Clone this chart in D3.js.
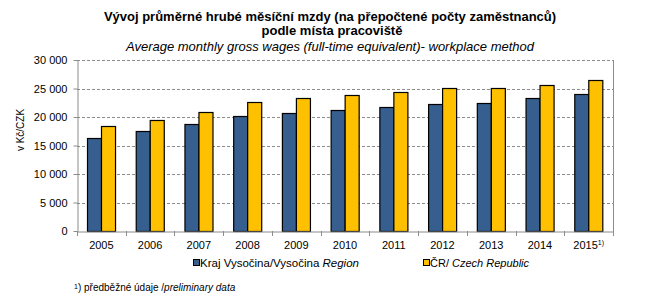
<!DOCTYPE html>
<html lang="cs">
<head>
  <meta charset="UTF-8">
  <title>Vývoj průměrné hrubé měsíční mzdy</title>
  <script src="https://d3js.org/d3.v7.min.js"></script>
  <style>
    body { margin: 0; background: #fff; }
    svg text { font-family: Arial, "Liberation Sans", sans-serif; fill: #000; }
  </style>
</head>
<body>
  <svg width="645" height="304"></svg>

  <script>
    // data
    var years = ["2005", "2006", "2007", "2008", "2009", "2010", "2011", "2012", "2013", "2014", "2015"];
    var vysocina = [16300, 17500, 18750, 20100, 20700, 21200, 21750, 22250, 22400, 23300, 24000];
    var cr = [18350, 19500, 20900, 22600, 23300, 23850, 24400, 25050, 25050, 25700, 26450];
    var yTicks = [0, 5000, 10000, 15000, 20000, 25000, 30000];
    var seriesNames = ["vysocina", "cr"];
    var colors = { vysocina: "#365E8E", cr: "#FFC000" };

    var svg = d3.select("svg"),
      plotL = 77, plotR = 613, plotT = 60, plotB = 231;

    var x0 = d3.scaleBand().domain(years).range([plotL, plotR]).padding(0);
    var step = x0.step();
    var x1 = d3.scaleBand().domain(seriesNames).range([step * 0.212, step * 0.788]).padding(0);
    var y = d3.scaleLinear().domain([0, 30000]).range([plotB, plotT]);

    var fmt = function (v) { return d3.format(",")(v).replace(/,/g, " "); };

    // gridlines (dashed)
    svg.append("g").selectAll("line")
      .data(yTicks.filter(function (t) { return t > 0; }))
      .enter().append("line")
      .attr("x1", plotL).attr("x2", plotR)
      .attr("y1", function (d) { return Math.round(y(d)) + 0.5; })
      .attr("y2", function (d) { return Math.round(y(d)) + 0.5; })
      .attr("stroke", "#8c8c8c")
      .attr("stroke-dasharray", "3,2");

    // right border
    svg.append("line")
      .attr("x1", plotR + 0.5).attr("x2", plotR + 0.5)
      .attr("y1", plotT).attr("y2", plotB)
      .attr("stroke", "#8c8c8c");

    // bars
    var rows = years.map(function (yr, i) { return { year: yr, vysocina: vysocina[i], cr: cr[i] }; });
    var grp = svg.append("g").selectAll("g")
      .data(rows)
      .enter().append("g")
      .attr("transform", function (d) { return "translate(" + x0(d.year) + ",0)"; });

    grp.selectAll("rect")
      .data(function (d) { return seriesNames.map(function (k) { return { key: k, value: d[k] }; }); })
      .enter().append("rect")
      .attr("x", function (d) { return Math.round(x1(d.key)) + 0.5; })
      .attr("y", function (d) { return Math.round(y(d.value)) + 0.5; })
      .attr("width", x1.bandwidth())
      .attr("height", function (d) { return plotB - Math.round(y(d.value)); })
      .attr("fill", function (d) { return colors[d.key]; })
      .attr("stroke", "#000")
      .attr("stroke-width", 1.2);

    // y axis
    var yAxis = svg.append("g")
      .attr("transform", "translate(" + (plotL + 0.5) + ",0)")
      .call(d3.axisLeft(y).tickValues(yTicks).tickFormat(fmt).tickSize(4).tickSizeOuter(0).tickPadding(6));
    yAxis.selectAll("line, path").attr("stroke", "#8c8c8c");
    yAxis.selectAll("text").style("font-size", "11px").style("font-family", "Arial, 'Liberation Sans', sans-serif");

    // x axis
    var xAxis = svg.append("g")
      .attr("transform", "translate(0," + (plotB + 0.5) + ")")
      .call(d3.axisBottom(x0).tickSize(0).tickPadding(10));
    xAxis.select("path").attr("stroke", "#8c8c8c");
    xAxis.selectAll("text").style("font-size", "11px").style("font-family", "Arial, 'Liberation Sans', sans-serif");
    xAxis.selectAll("text").filter(function (d) { return d === "2015"; })
      .append("tspan").attr("dy", "-4").style("font-size", "7px").text("1)");

    // tick marks between categories
    svg.append("g").selectAll("line")
      .data(years.concat(["end"]))
      .enter().append("line")
      .attr("x1", function (d, i) { return Math.round(plotL + i * step) + 0.5; })
      .attr("x2", function (d, i) { return Math.round(plotL + i * step) + 0.5; })
      .attr("y1", plotB).attr("y2", plotB + 5)
      .attr("stroke", "#8c8c8c");

    // y title
    svg.append("text")
      .attr("transform", "translate(24,130) rotate(-90)")
      .attr("text-anchor", "middle")
      .style("font-size", "10px")
      .text("v Kč/CZK");

    // titles
    svg.append("text").attr("x", 330).attr("y", 21).attr("text-anchor", "middle")
      .style("font-size", "13px").style("font-weight", "bold")
      .text("Vývoj průměrné hrubé měsíční mzdy (na přepočtené počty zaměstnanců)");
    svg.append("text").attr("x", 332).attr("y", 35).attr("text-anchor", "middle")
      .style("font-size", "13px").style("font-weight", "bold")
      .text("podle místa pracoviště");
    svg.append("text").attr("x", 330).attr("y", 51).attr("text-anchor", "middle")
      .style("font-size", "13px").style("font-style", "italic")
      .text("Average monthly gross wages (full-time equivalent)- workplace method");

    // legend
    var legend = [
      { key: "vysocina", x: 193, size: "11.5px", parts: [["Kraj Vysočina/Vysočina ", "normal"], ["Region", "italic"]] },
      { key: "cr", x: 423, size: "11px", parts: [["ČR/ ", "normal"], ["Czech Republic", "italic"]] }
    ];
    legend.forEach(function (l) {
      svg.append("rect").attr("x", l.x + 0.5).attr("y", 259.5).attr("width", 6).attr("height", 6)
        .attr("fill", colors[l.key]).attr("stroke", "#000");
      var t = svg.append("text").attr("x", l.x + 7).attr("y", 267).style("font-size", l.size);
      l.parts.forEach(function (p) { t.append("tspan").style("font-style", p[1]).text(p[0]); });
    });

    // footnote
    var fn = svg.append("text").attr("x", 74).attr("y", 291).style("font-size", "10px");
    fn.append("tspan").attr("dy", "-2").style("font-size", "7px").text("1");
    fn.append("tspan").attr("dy", "2").text(") předběžné údaje /");
    fn.append("tspan").style("font-style", "italic").text("preliminary data");
  </script>
</body>
</html>
